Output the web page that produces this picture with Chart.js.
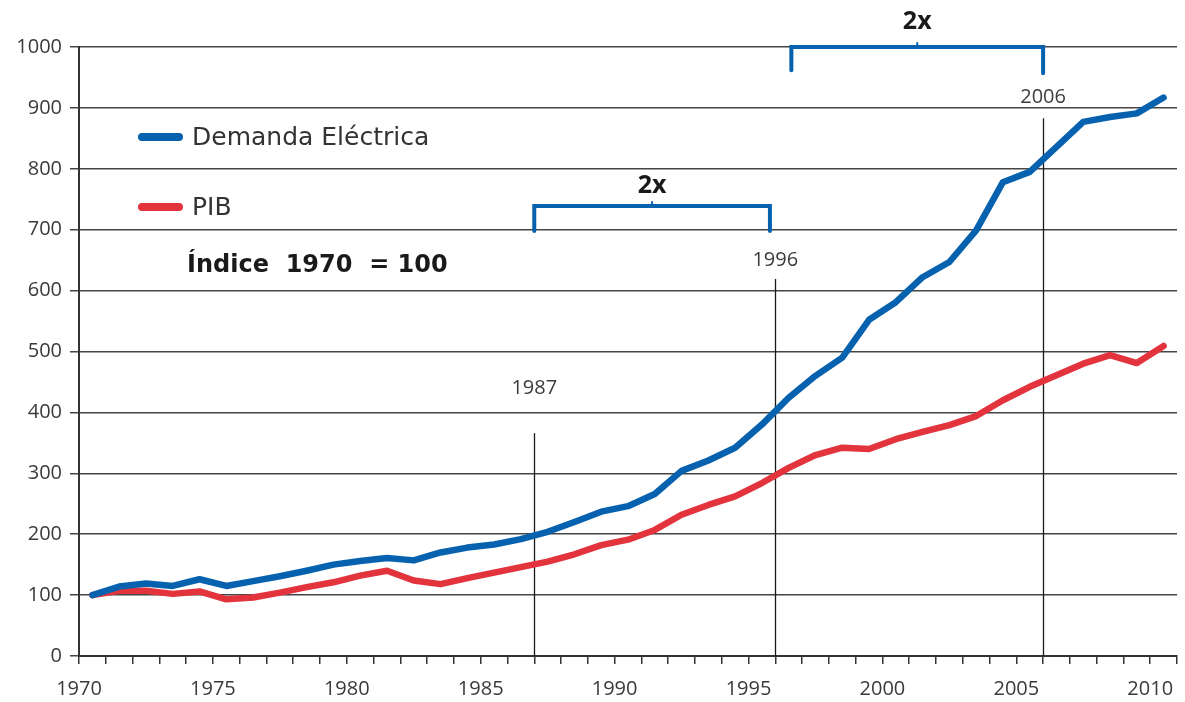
<!DOCTYPE html>
<html>
<head>
<meta charset="utf-8">
<script src="https://cdn.jsdelivr.net/npm/chart.js@4/dist/chart.umd.min.js"></script>
<style>
  html, body { margin: 0; padding: 0; background: #ffffff; }
  #wrap { width: 1185px; height: 702px; }
</style>
</head>
<body>
<div id="wrap"><canvas id="c" width="1185" height="702"></canvas></div>
<script>
// ---- Data ----
const years = [1970, 1971, 1972, 1973, 1974, 1975, 1976, 1977, 1978, 1979,
               1980, 1981, 1982, 1983, 1984, 1985, 1986, 1987, 1988, 1989,
               1990, 1991, 1992, 1993, 1994, 1995, 1996, 1997, 1998, 1999,
               2000, 2001, 2002, 2003, 2004, 2005, 2006, 2007, 2008, 2009, 2010];
const demandaElectrica = [100, 114, 119, 115, 126, 115, 123, 131, 140, 150,
                          156, 161, 157, 170, 178, 183, 192, 204, 220, 237,
                          246, 266, 304, 321, 342, 380, 424, 460, 490, 552,
                          581, 622, 647, 699, 778, 795, 836, 877, 885, 891, 917];
const pib = [100, 107, 107, 102, 106, 93, 96, 104, 113, 121,
             132, 140, 124, 118, 128, 137, 146, 155, 167, 182,
             191, 207, 232, 248, 262, 284, 309, 330, 342, 340,
             356, 368, 379, 394, 420, 442, 461, 480, 494, 481, 509];
const seriesNames = ['Demanda Eléctrica', 'PIB'];
const xTickLabelEvery = 5;
const yTicks = [0, 100, 200, 300, 400, 500, 600, 700, 800, 900, 1000];

// annotation content (in data units)
const markerYears = [1987, 1996, 2006];
const markerTops = [366, 619, 883];
const markerLabelYs = [440, 649, 918];
const bracketFrom = [1987, 1996.6];
const bracketTo = [1995.8, 2006];
const bracketTop = [739, 1000];
const bracketLeftBottom = [698, 962];
const bracketRightBottom = [698, 957];
const bracketText = ['2x', '2x'];
const bracketTextY = [772, 1041];
const noteText = 'Índice  1970  = 100';

const BLUE = '#0662ae';
const RED = '#e3343e';
const FONT = '"Open Sans", "Noto Sans", sans-serif';
const WIDE = '"DejaVu Sans", "Open Sans", sans-serif';

const annotationPlugin = {
  id: 'annots',
  beforeDatasetsDraw(chart) {
    const ctx = chart.ctx, xs = chart.scales.x, ys = chart.scales.y;
    ctx.save();
    ctx.strokeStyle = '#1a1a1a';
    ctx.lineWidth = 1.3;
    markerYears.forEach((yr, i) => {
      const px = Math.round(xs.getPixelForValue(yr)) + 0.5;
      ctx.beginPath();
      ctx.moveTo(px, ys.getPixelForValue(markerTops[i]));
      ctx.lineTo(px, ys.getPixelForValue(0));
      ctx.stroke();
    });
    ctx.restore();
  },
  afterDraw(chart) {
    const ctx = chart.ctx, xs = chart.scales.x, ys = chart.scales.y, ca = chart.chartArea;
    ctx.save();
    // marker labels
    ctx.fillStyle = '#3c3c3c';
    ctx.font = '20px ' + FONT;
    ctx.textAlign = 'center';
    ctx.textBaseline = 'middle';
    markerYears.forEach((yr, i) => {
      ctx.fillText(String(yr), xs.getPixelForValue(yr), ys.getPixelForValue(markerLabelYs[i]));
    });
    // brackets
    ctx.strokeStyle = BLUE;
    ctx.lineWidth = 4;
    ctx.lineCap = 'round';
    ctx.lineJoin = 'miter';
    bracketFrom.forEach((f, i) => {
      const x1 = xs.getPixelForValue(f), x2 = xs.getPixelForValue(bracketTo[i]);
      const yt = ys.getPixelForValue(bracketTop[i]);
      ctx.beginPath();
      ctx.moveTo(x1, ys.getPixelForValue(bracketLeftBottom[i]));
      ctx.lineTo(x1, yt);
      ctx.lineTo(x2, yt);
      ctx.lineTo(x2, ys.getPixelForValue(bracketRightBottom[i]));
      ctx.stroke();
      const xm = (x1 + x2) / 2;
      ctx.lineWidth = 2;
      ctx.beginPath();
      ctx.moveTo(xm, yt);
      ctx.lineTo(xm, yt - 4);
      ctx.stroke();
      ctx.lineWidth = 4;
      ctx.fillStyle = '#1a1a1a';
      ctx.font = 'bold 25px ' + FONT;
      ctx.fillText(bracketText[i], xm, ys.getPixelForValue(bracketTextY[i]));
    });
    // legend
    const colors = [BLUE, RED];
    const legendYs = [137, 207];
    ctx.lineCap = 'round';
    ctx.lineWidth = 8;
    ctx.textAlign = 'left';
    ctx.font = '25px ' + WIDE;
    seriesNames.forEach((name, i) => {
      ctx.strokeStyle = colors[i];
      ctx.beginPath();
      ctx.moveTo(ca.left + 63, legendYs[i]);
      ctx.lineTo(ca.left + 100, legendYs[i]);
      ctx.stroke();
      ctx.fillStyle = '#333333';
      ctx.fillText(name, ca.left + 113, legendYs[i] + 1);
    });
    ctx.font = 'bold 24px ' + WIDE;
    ctx.fillStyle = '#1a1a1a';
    ctx.fillText(noteText, ca.left + 108, 266);
    ctx.restore();
  }
};

new Chart(document.getElementById('c'), {
  type: 'line',
  data: {
    datasets: [
      {
        label: seriesNames[0],
        data: years.map((yr, i) => ({ x: yr + 0.5, y: demandaElectrica[i] })),
        borderColor: BLUE, backgroundColor: BLUE,
        borderWidth: 6.5, pointRadius: 0, tension: 0,
        borderCapStyle: 'round', borderJoinStyle: 'round'
      },
      {
        label: seriesNames[1],
        data: years.map((yr, i) => ({ x: yr + 0.5, y: pib[i] })),
        borderColor: RED, backgroundColor: RED,
        borderWidth: 6.5, pointRadius: 0, tension: 0,
        borderCapStyle: 'round', borderJoinStyle: 'round'
      }
    ]
  },
  options: {
    responsive: false,
    animation: false,
    devicePixelRatio: 1,
    layout: { padding: { top: 47, right: 8, left: 0, bottom: 0 } },
    plugins: { legend: { display: false }, tooltip: { enabled: false } },
    scales: {
      x: {
        type: 'linear',
        min: years[0],
        max: years[years.length - 1] + 1,
        afterFit(scale) { scale.height = 46; scale.paddingLeft = 0; scale.paddingRight = 0; },
        grid: { drawOnChartArea: false, drawTicks: true, tickLength: 8, color: '#333333', lineWidth: 1.5 },
        border: { display: true, color: '#333333', width: 2 },
        ticks: {
          stepSize: 1, autoSkip: false, maxRotation: 0, padding: 13,
          color: '#3a3a3a', font: { family: FONT, size: 20 },
          callback: (v) => (v % xTickLabelEvery === 0 && v <= years[years.length - 1]) ? String(v) : ''
        }
      },
      y: {
        min: yTicks[0],
        max: yTicks[yTicks.length - 1],
        afterFit(scale) { scale.width = 79; },
        afterBuildTicks(scale) { scale.ticks = yTicks.map(v => ({ value: v })); },
        grid: { color: '#454545', lineWidth: 1.5, tickLength: 9 },
        border: { display: true, color: '#333333', width: 2 },
        ticks: {
          padding: 8, color: '#3a3a3a', font: { family: FONT, size: 20 },
          callback: (v) => String(v)
        }
      }
    }
  },
  plugins: [annotationPlugin]
});
</script>
</body>
</html>
